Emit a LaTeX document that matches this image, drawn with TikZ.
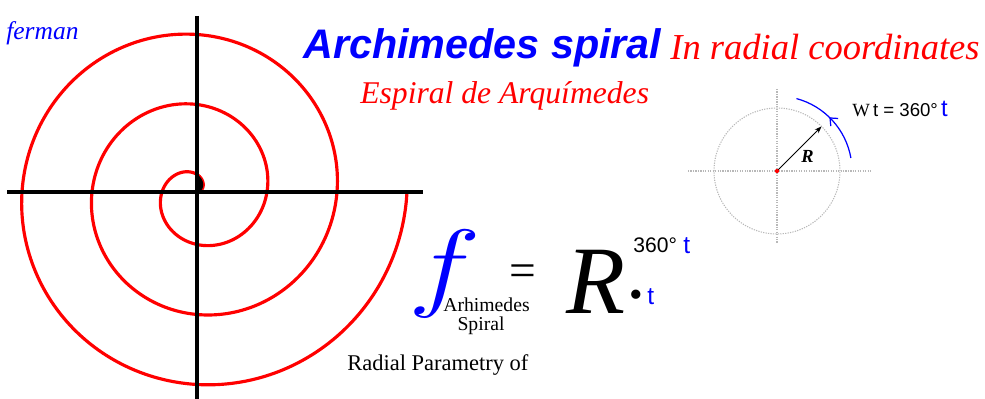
\RequirePackage{fix-cm}
\documentclass[tikz,border=0pt]{standalone}
\usepackage{graphicx}
\usepackage{fontspec}
\setmainfont{Liberation Serif}
\setsansfont{Liberation Sans}
\usetikzlibrary{arrows.meta, decorations.markings, positioning}

\begin{document}
\begin{tikzpicture}[x=0.02cm, y=0.02cm,
		axis/.style={line width=1.9pt},
		spiral/.style={red, line width=1.8pt},
		guide/.style={black!28, line width=0.6pt, dash pattern=on 0.7pt off 0.7pt},
		lbl/.style={inner sep=0pt, anchor=base west},
		arr/.style={-{Stealth[length=4pt,width=3pt]}, line width=0.5pt},
		turn/.style={blue, line width=0.7pt, postaction={decorate},
			decoration={markings, mark=at position 0.55 with {\arrow{Straight Barb[length=3.5pt,width=6pt]}}}}
	]
	\useasboundingbox (0,0) rectangle (985,399);
	% spiral r = R t, three turns
	\draw[spiral] plot[domain=0:1080, samples=400, smooth] ({197+0.19444*\x*cos(\x)},{207+0.19444*\x*sin(\x)});
	\fill[black] plot[domain=0:90, samples=30] ({197+0.19444*\x*cos(\x)},{207+0.19444*\x*sin(\x)}) -- cycle;
	\draw[axis] (197,383) -- (197,0);
	\draw[axis] (7,207) -- (423,207);
	% texts
	\node[lbl, blue, font=\itshape\fontsize{14.5}{17}\selectfont] (author) at (6,359) {ferman};
	\node[lbl, blue, font=\sffamily\bfseries\itshape\fontsize{23.5}{28}\selectfont] (title) at (303,340) {Archimedes spiral};
	\node[lbl, red, font=\itshape\fontsize{20.8}{25}\selectfont] (sub) at (670,339) {In radial coordinates};
	\node[lbl, red, font=\itshape\fontsize{18}{22}\selectfont] (esp) at (360,295) {Espiral de Arquímedes};
	% small circle
	\coordinate (O) at (777,228);
	\coordinate (Rtip) at (821.5,272.5);
	\draw[guide] (O) circle[radius=1.26cm];
	\draw[guide] (688,228) -- (872,228);
	\draw[guide] (777,310) -- (777,156);
	\draw[arr] (O) -- (Rtip);
	\fill[red] (O) circle[radius=1.2pt];
	\node[lbl, font=\bfseries\itshape\fontsize{10.5}{12}\selectfont] (rlbl) at (801,236) {R};
	\draw[turn] (850.9,241) arc[start angle=10, end angle=75, radius=1.5cm];
	\node[lbl, font=\fontsize{10.6}{12}\selectfont] (wt) at (852,282) {W\,{\sffamily t = 360°}\,{\sffamily\color{blue}\fontsize{13.5}{15}\selectfont t}};
	% formula
	\node[lbl, blue, font=\fontsize{56}{60}\selectfont] (f) at (408,100) {\scalebox{1.25}[1]{$f$}};
	\node[font=\fontsize{27}{30}\selectfont] (eq) at (523,123) {=};
	\node[lbl, font=\fontsize{11.2}{13}\selectfont] (sub1) at (443,87) {Arhimedes};
	\node[anchor=base, inner sep=0pt, font=\fontsize{11.2}{13}\selectfont] (sub2) at (481,68) {Spiral};
	\node[lbl, font=\itshape\fontsize{55}{60}\selectfont] (R) at (566,85) {R};
	\node[inner sep=0pt, font=\fontsize{22}{24}\selectfont] (dot) at (636,100) {•};
	\node[lbl, blue, font=\sffamily\fontsize{14}{16}\selectfont] (t1) at (647,94) {t};
	\node[lbl, font=\sffamily\fontsize{12}{14}\selectfont] (deg) at (633,146) {360°};
	\node[lbl, blue, font=\sffamily\fontsize{14}{16}\selectfont] (t2) at (683,145) {t};
	\node[lbl, font=\fontsize{12.8}{15}\selectfont] (radial) at (347,28) {Radial Parametry of};
\end{tikzpicture}
\end{document}
